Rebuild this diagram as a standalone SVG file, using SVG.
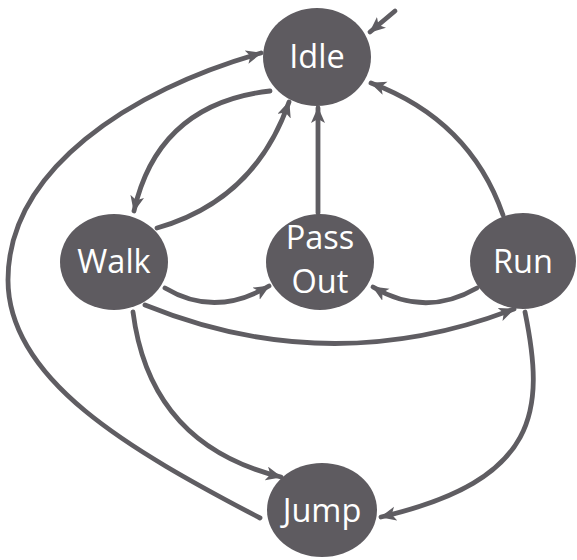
<svg xmlns="http://www.w3.org/2000/svg" width="577" height="560" viewBox="0 0 577 560">
  <style>
    .node { fill: #5e5b60; }
    .label { fill: #ffffff; font-family: "Open Sans", "DejaVu Sans", sans-serif; font-size: 32.5px; text-anchor: middle; }
    .edge { fill: none; stroke: #5f5d62; stroke-width: 4.8; stroke-linecap: round; marker-end: url(#arrow); }
  </style>
  <defs>
    <marker id="arrow" markerUnits="userSpaceOnUse" markerWidth="18" markerHeight="15" refX="15" refY="7" orient="auto">
      <path d="M0,0 L16,7 L0,14 L4,7 z" fill="#5f5d62"/>
    </marker>
  </defs>
  <rect width="577" height="560" fill="#ffffff"/>

  <g id="connectors">
    <!-- entry into Idle -->
    <path class="edge" d="M395,11 L370,32"/>
    <!-- Idle to Walk -->
    <path class="edge" d="M270,91 Q158,104 134,211"/>
    <!-- Walk to Idle -->
    <path class="edge" d="M157,228 Q255,200 289,102"/>
    <!-- Jump to Idle, around the left side -->
    <path class="edge" d="M260,518 C130,450 8,380 8,280 C8,170 130,90 261,53"/>
    <!-- Pass Out to Idle -->
    <path class="edge" d="M318,213 L318,108"/>
    <!-- Run to Idle -->
    <path class="edge" d="M503,215 Q470,120 371,83"/>
    <!-- Walk to Pass Out -->
    <path class="edge" d="M165,288 Q215,318 269,286"/>
    <!-- Run to Pass Out -->
    <path class="edge" d="M477,288 Q425,318 373,287"/>
    <!-- Walk to Run -->
    <path class="edge" d="M145,305 Q330,380 514,309"/>
    <!-- Walk to Jump -->
    <path class="edge" d="M133,312 Q150,445 281,477"/>
    <!-- Run to Jump -->
    <path class="edge" d="M525,312 C545,410 540,480 381,517"/>
  </g>

  <g id="idle">
    <ellipse class="node" cx="317" cy="57" rx="54" ry="49"/>
    <text class="label" x="317" y="68">Idle</text>
  </g>
  <g id="walk">
    <ellipse class="node" cx="114" cy="262" rx="54" ry="48"/>
    <text class="label" x="114" y="273">Walk</text>
  </g>
  <g id="pass-out">
    <ellipse class="node" cx="320" cy="262" rx="54" ry="48"/>
    <text class="label" x="320" y="249">Pass</text>
    <text class="label" x="320" y="293">Out</text>
  </g>
  <g id="run">
    <ellipse class="node" cx="523" cy="261" rx="53" ry="48"/>
    <text class="label" x="523" y="273">Run</text>
  </g>
  <g id="jump">
    <ellipse class="node" cx="322" cy="510" rx="55" ry="47"/>
    <text class="label" x="322" y="522">Jump</text>
  </g>
</svg>
